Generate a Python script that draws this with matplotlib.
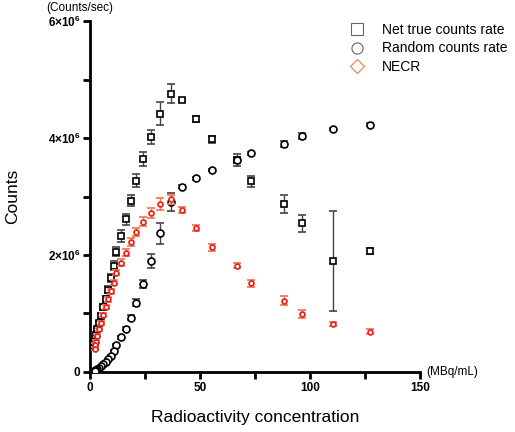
import matplotlib.pyplot as plt
from matplotlib.lines import Line2D
import numpy as np

plt.rcParams['font.family'] = ['Liberation Sans', 'DejaVu Sans']
plt.rcParams['mathtext.fontset'] = 'custom'
plt.rcParams['mathtext.bf'] = 'Liberation Sans:bold'
plt.rcParams['mathtext.rm'] = 'Liberation Sans'

# activity concentration (MBq/mL)
conc = [127.2, 110.7, 96.3, 88.3, 73.0, 66.9, 55.4, 48.0, 42.0, 36.6, 31.9, 27.8,
        24.0, 21.1, 18.4, 16.1, 14.0, 12.0, 10.7, 9.3, 8.1, 7.0, 6.0, 4.9, 4.2,
        3.3, 2.8, 2.4, 2.0]

# counts/sec, in units of 1e6
net_true = [2.07, 1.90, 2.54, 2.87, 3.26, 3.62, 3.98, 4.32, 4.66, 4.76, 4.42, 4.02,
            3.64, 3.27, 2.93, 2.61, 2.33, 2.06, 1.82, 1.61, 1.41, 1.25, 1.11, 0.96,
            0.84, 0.73, 0.63, 0.52, 0.42]
net_true_err = [0.05, 0.85, 0.15, 0.15, 0.10, 0.10, 0.06, 0.05, 0.03, 0.16, 0.20, 0.12,
                0.12, 0.11, 0.10, 0.10, 0.10, 0.08, 0.07, 0.07, 0.06, 0.05, 0.05, 0.04,
                0.04, 0.03, 0.03, 0.03, 0.03]

random_rate = [4.23, 4.15, 4.04, 3.90, 3.74, 3.62, 3.45, 3.31, 3.17, 2.91, 2.37, 1.89,
               1.50, 1.18, 0.93, 0.74, 0.59, 0.46, 0.36, 0.28, 0.22, 0.17, 0.13, 0.10,
               0.07, 0.05, 0.04, 0.03, 0.02]
random_err = [0.02, 0.02, 0.05, 0.05, 0.03, 0.05, 0.02, 0.02, 0.02, 0.15, 0.18, 0.12,
              0.07, 0.06, 0.04, 0.03, 0.02, 0.02, 0.02, 0.01, 0.01, 0.01, 0.01, 0.01,
              0.01, 0.01, 0.01, 0.01, 0.01]

necr = [0.69, 0.82, 0.99, 1.22, 1.52, 1.82, 2.13, 2.46, 2.77, 2.95, 2.87, 2.72,
        2.57, 2.40, 2.22, 2.04, 1.87, 1.70, 1.53, 1.38, 1.24, 1.11, 0.97, 0.84,
        0.73, 0.62, 0.52, 0.46, 0.40]
necr_err = [0.04, 0.04, 0.07, 0.08, 0.06, 0.05, 0.06, 0.05, 0.05, 0.08, 0.10, 0.08,
            0.08, 0.07, 0.07, 0.06, 0.06, 0.05, 0.05, 0.04, 0.04, 0.04, 0.03, 0.03,
            0.03, 0.03, 0.03, 0.03, 0.03]

x = np.array(conc)
scale = 1e6

fig = plt.figure(figsize=(5.15, 4.32), dpi=100)
ax = fig.add_axes([0.175, 0.139, 0.64, 0.812])

ax.errorbar(x, np.array(net_true) * scale, yerr=np.array(net_true_err) * scale,
            fmt='s', ms=5, mfc='white', mec='black', mew=1.2,
            ecolor='#444444', elinewidth=1, capsize=3, zorder=3)
ax.errorbar(x, np.array(random_rate) * scale, yerr=np.array(random_err) * scale,
            fmt='o', ms=5, mfc='white', mec='black', mew=1.2,
            ecolor='#444444', elinewidth=1, capsize=3, zorder=3)
ax.errorbar(x, np.array(necr) * scale, yerr=np.array(necr_err) * scale,
            fmt='o', ms=3.5, mfc='white', mec='#e8261c', mew=1.3,
            ecolor='#f07c5c', elinewidth=1, capsize=3, zorder=4)

ax.set_xlim(0, 150)
ax.set_ylim(0, 6e6)
ax.set_xticks([0, 50, 100, 150])
ax.set_xticks([25, 75, 125], minor=True)
ax.set_yticks([0, 2e6, 4e6, 6e6])
ax.set_yticks([1e6, 3e6, 5e6], minor=True)
ax.set_xticklabels(['0', '50', '100', '150'], fontweight='bold', fontsize=8.5)
ax.set_yticklabels(['0', r'$\mathbf{2{\times}10^{6}}$', r'$\mathbf{4{\times}10^{6}}$',
                    r'$\mathbf{6{\times}10^{6}}$'], fontweight='bold', fontsize=8.5)

for s in ['top', 'right']:
    ax.spines[s].set_visible(False)
for s in ['left', 'bottom']:
    ax.spines[s].set_linewidth(2)
ax.tick_params(which='both', direction='out', width=2, length=5, pad=2)

ax.set_xlabel('Radioactivity concentration', fontsize=12.5)
ax.set_ylabel('Counts', fontsize=12.5)
ax.xaxis.set_label_coords(0.5, -0.108)
ax.yaxis.set_label_coords(-0.212, 0.5)
fig.text(0.155, 0.982, '(Counts/sec)', fontsize=8.5, ha='center', va='center')
ax.text(1.02, 0.0, '(MBq/mL)', transform=ax.transAxes, fontsize=8.5,
        ha='left', va='center')

handles = [
    Line2D([], [], ls='none', marker='s', ms=8, mfc='white', mec='#666666', mew=0.8),
    Line2D([], [], ls='none', marker='o', ms=8, mfc='white', mec='#666666', mew=0.8),
    Line2D([], [], ls='none', marker='D', ms=7, mfc='white', mec='#f47a3a', mew=0.8),
]
fig.legend(handles, ['Net true counts rate', 'Random counts rate', 'NECR'],
           loc='upper left', bbox_to_anchor=(0.68, 0.946), frameon=False,
           fontsize=10, handlelength=1.0, handletextpad=1.3, labelspacing=0.3,
           borderaxespad=0, borderpad=0)

fig.savefig('out.png', dpi=100)
